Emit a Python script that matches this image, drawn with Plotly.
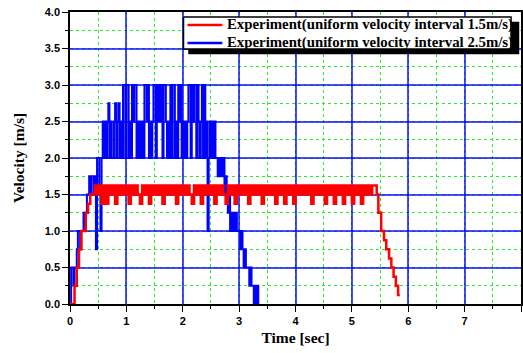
import plotly.graph_objects as go

# ---------------- data ----------------
red_t = [0.00, 0.04, 0.08, 0.12, 0.16, 0.20, 0.24, 0.28, 0.32, 0.36, 0.40, 0.44,
         0.48, 0.52, 0.56, 0.60, 0.64, 0.68, 0.72, 0.76, 0.80, 0.84,
         0.88, 0.92, 0.96, 1.00, 1.04, 1.08, 1.12, 1.16, 1.20, 1.24,
         1.28, 1.32, 1.36, 1.40, 1.44, 1.48, 1.52, 1.56, 1.60, 1.64,
         1.68, 1.72, 1.76, 1.80, 1.84, 1.88, 1.92, 1.96, 2.00, 2.04,
         2.08, 2.12, 2.16, 2.20, 2.24, 2.28, 2.32, 2.36, 2.40, 2.44,
         2.48, 2.52, 2.56, 2.60, 2.64, 2.68, 2.72, 2.76, 2.80, 2.84,
         2.88, 2.92, 2.96, 3.00, 3.04, 3.08, 3.12, 3.16, 3.20, 3.24,
         3.28, 3.32, 3.36, 3.40, 3.44, 3.48, 3.52, 3.56, 3.60, 3.64,
         3.68, 3.72, 3.76, 3.80, 3.84, 3.88, 3.92, 3.96, 4.00, 4.04,
         4.08, 4.12, 4.16, 4.20, 4.24, 4.28, 4.32, 4.36, 4.40, 4.44,
         4.48, 4.52, 4.56, 4.60, 4.64, 4.68, 4.72, 4.76, 4.80, 4.84,
         4.88, 4.92, 4.96, 5.00, 5.04, 5.08, 5.12, 5.16, 5.20, 5.24,
         5.28, 5.32, 5.36, 5.40,
         5.44, 5.47, 5.52, 5.57, 5.61, 5.66, 5.70, 5.74, 5.78, 5.82, 5.85]
red_v = [0, 0, 0.25, 0.5, 0.75, 1.0, 1.0, 1.25, 1.375, 1.5, 1.5, 1.625,
         1.5, 1.625, 1.375, 1.625, 1.375, 1.625, 1.5, 1.625, 1.375, 1.625,
         1.5, 1.625, 1.5, 1.625, 1.375, 1.625, 1.5, 1.625, 1.5, 1.375,
         1.625, 1.5, 1.625, 1.375, 1.625, 1.5, 1.625, 1.5, 1.625, 1.375,
         1.625, 1.5, 1.625, 1.5, 1.625, 1.375, 1.625, 1.5, 1.625, 1.5,
         1.625, 1.5, 1.375, 1.625, 1.5, 1.625, 1.375, 1.625, 1.5, 1.625,
         1.5, 1.625, 1.375, 1.625, 1.5, 1.625, 1.5, 1.375, 1.625, 1.5,
         1.625, 1.375, 1.625, 1.5, 1.625, 1.5, 1.625, 1.375, 1.625, 1.5,
         1.625, 1.5, 1.625, 1.375, 1.625, 1.5, 1.625, 1.5, 1.625, 1.375,
         1.625, 1.5, 1.625, 1.375, 1.625, 1.5, 1.625, 1.375, 1.625, 1.5,
         1.625, 1.5, 1.625, 1.5, 1.625, 1.375, 1.625, 1.5, 1.625, 1.5,
         1.625, 1.375, 1.625, 1.5, 1.625, 1.375, 1.625, 1.5, 1.625, 1.375,
         1.625, 1.5, 1.625, 1.375, 1.625, 1.5, 1.625, 1.375, 1.625, 1.5,
         1.625, 1.5, 1.625, 1.625,
         1.5, 1.25, 1.0, 0.875, 0.75, 0.625, 0.5, 0.375, 0.25, 0.125, 0.125]

blue_t = [0.00, 0.02, 0.04, 0.06, 0.08, 0.10, 0.12, 0.14, 0.16, 0.18,
          0.20, 0.22, 0.24, 0.26, 0.28, 0.30, 0.32, 0.34, 0.36, 0.38,
          0.40, 0.42, 0.44, 0.46, 0.48, 0.50, 0.52, 0.54, 0.56, 0.58,
          0.60, 0.62, 0.64, 0.66, 0.68, 0.70, 0.72, 0.74, 0.76, 0.78,
          0.80, 0.82, 0.84, 0.86, 0.88, 0.90, 0.92, 0.94, 0.96, 0.98,
          1.00, 1.02, 1.04, 1.06, 1.08, 1.10, 1.12, 1.14, 1.16, 1.18,
          1.20, 1.22, 1.24, 1.26, 1.28, 1.30, 1.32, 1.34, 1.36, 1.38,
          1.40, 1.42, 1.44, 1.46, 1.48, 1.50, 1.52, 1.54, 1.56, 1.58,
          1.60, 1.62, 1.64, 1.66, 1.68, 1.70, 1.72, 1.74, 1.76, 1.78,
          1.80, 1.82, 1.84, 1.86, 1.88, 1.90, 1.92, 1.94, 1.96, 1.98,
          2.00, 2.02, 2.04, 2.06, 2.08, 2.10, 2.12, 2.14, 2.16, 2.18,
          2.20, 2.22, 2.24, 2.26, 2.28, 2.30, 2.32, 2.34, 2.36, 2.38,
          2.40, 2.42, 2.44, 2.46, 2.48, 2.50, 2.52, 2.54, 2.56, 2.58,
          2.60, 2.62, 2.64, 2.66, 2.68, 2.70, 2.72, 2.74, 2.76, 2.78,
          2.80, 2.82, 2.84, 2.86, 2.88, 2.90, 2.92, 2.94, 2.96, 2.98,
          3.00, 3.02, 3.04, 3.06, 3.08, 3.10, 3.12, 3.14, 3.16, 3.18,
          3.20, 3.22, 3.24, 3.26, 3.28, 3.30, 3.32, 3.34]
blue_v = [0, 0.5, 0.5, 0.25, 0.5, 0.5, 0.75, 1.0, 1.0, 0.75,
          1.0, 1.0, 1.25, 1.0, 1.25, 1.5, 1.5, 1.75, 1.5, 1.75,
          1.75, 1.5, 1.75, 0.75, 2.0, 2.0, 1.5, 1.0, 2.0, 2.5,
          2.0, 2.5, 2.0, 2.5, 2.75, 2.0, 2.5, 2.0, 2.0, 2.5,
          2.75, 2.0, 2.5, 2.75, 2.0, 2.5, 2.0, 3.0, 3.0, 2.0,
          3.0, 3.0, 2.0, 2.5, 2.0, 3.0, 2.5, 3.0, 3.0, 2.0,
          2.5, 2.0, 2.5, 2.0, 2.5, 2.0, 3.0, 3.0, 2.5, 3.0,
          2.0, 2.5, 2.0, 2.5, 3.0, 3.0, 2.0, 3.0, 2.5, 3.0,
          2.5, 3.0, 2.0, 3.0, 3.0, 2.5, 2.0, 2.5, 2.0, 3.0,
          2.0, 3.0, 3.0, 2.0, 2.5, 2.0, 3.0, 2.5, 3.0, 2.0,
          2.5, 2.0, 2.5, 2.0, 2.5, 3.0, 3.0, 2.0, 3.0, 2.5,
          3.0, 3.0, 2.0, 3.0, 2.5, 2.0, 2.5, 3.0, 2.0, 3.0,
          2.0, 2.5, 1.0, 2.0, 2.5, 2.0, 2.5, 2.0, 2.5, 2.0,
          2.0, 1.75, 2.0, 1.75, 2.0, 1.75, 2.0, 1.5, 1.75, 1.5,
          1.25, 1.5, 1.0, 1.25, 1.0, 1.25, 1.0, 1.25, 1.0, 1.0,
          1.0, 0.75, 1.0, 0.75, 0.5, 0.75, 0.5, 0.5, 0.5, 0.25,
          0.5, 0.25, 0.25, 0, 0.25, 0, 0.25, 0]

red_name = "Experiment(uniform velocity interval 1.5m/s)"
blue_name = "Experiment(uniform velocity interval 2.5m/s)"
x_ticks = [0, 1, 2, 3, 4, 5, 6, 7, 8]
y_ticks = [0.0, 0.5, 1.0, 1.5, 2.0, 2.5, 3.0, 3.5, 4.0]

# ---------------- figure ----------------
fig = go.Figure()
fig.add_trace(go.Scatter(x=blue_t, y=blue_v, mode="lines", name=blue_name,
                         line=dict(color="#0000ff", width=2, shape="hv"), showlegend=False))
fig.add_trace(go.Scatter(x=red_t, y=red_v, mode="lines", name=red_name,
                         line=dict(color="#ff0000", width=2.5, shape="hv"), showlegend=False))

serif = "Liberation Serif, Times New Roman, serif"
sans = "Liberation Sans, Arial, sans-serif"

axis_common = dict(
    showline=True, linecolor="black", linewidth=1.5, mirror=True,
    ticks="outside", ticklen=6, tickwidth=1, tickcolor="black",
    showgrid=True, gridcolor="rgba(0,0,255,0.7)", gridwidth=1.5,
    zeroline=False,
    tickfont=dict(family=sans, size=11, color="black", weight="bold"),
)

X_RANGE = [0, 8]
Y_RANGE = [0, 4]

fig.update_xaxes(
    range=X_RANGE, tickvals=x_ticks, ticktext=[str(v) for v in x_ticks],
    title=dict(text="Time [sec]", font=dict(family=serif, size=15.5, color="black", weight="bold"),
               standoff=6),
    minor=dict(dtick=0.5, showgrid=True, gridcolor="#22ee22", griddash="dot", gridwidth=1,
               ticks="outside", ticklen=3, tickcolor="black"),
    **axis_common,
)
fig.update_yaxes(
    range=Y_RANGE, tickvals=y_ticks, ticktext=[f"{v:.1f}" for v in y_ticks],
    title=dict(text="Velocity [m/s]", font=dict(family=serif, size=15.5, color="black", weight="bold"),
               standoff=16),
    minor=dict(dtick=0.25, showgrid=True, gridcolor="#22ee22", griddash="dot", gridwidth=1,
               ticks="outside", ticklen=3, tickcolor="black"),
    **axis_common,
)

# ---- legend panel: frame + drop shadow, placed by pixel position ----
PL, PW, PB, PH = 70, 453, 304, 292


def to_px(xp):          # pixel x -> paper fraction
    return (xp - PL) / PW


def to_py(yp):          # pixel y -> paper fraction
    return (PB - yp) / PH


def frac_to_x(f):       # paper fraction -> axis value
    return X_RANGE[0] + f * (X_RANGE[1] - X_RANGE[0])


def frac_to_y(f):
    return Y_RANGE[0] + f * (Y_RANGE[1] - Y_RANGE[0])


def panel(x_left, y_top, x_right, y_bot, fill, line_color, line_width):
    xa, xb = frac_to_x(to_px(x_left)), frac_to_x(to_px(x_right))
    ya, yb = frac_to_y(to_py(y_top)), frac_to_y(to_py(y_bot))
    return go.Scatter(x=[xa, xb, xb, xa, xa], y=[ya, ya, yb, yb, ya], mode="lines",
                      fill="toself", fillcolor=fill,
                      line=dict(color=line_color, width=line_width),
                      hoverinfo="skip", showlegend=False, cliponaxis=False)


fig.add_trace(panel(189, 22, 521, 54, "black", "black", 0.5))     # drop shadow
fig.add_trace(panel(184, 17, 513, 49, "white", "black", 1.5))     # legend frame

legend_items = [(red_name, "#ff0000", 25), (blue_name, "#0000ff", 43)]
for name, color, yy in legend_items:
    fig.add_shape(type="line", xref="paper", yref="paper",
                  x0=to_px(188), x1=to_px(223), y0=to_py(yy), y1=to_py(yy),
                  line=dict(color=color, width=2.5), layer="above")
    fig.add_annotation(text=name, xref="paper", yref="paper", x=to_px(226), y=to_py(yy),
                       xanchor="left", yanchor="middle", showarrow=False,
                       font=dict(family=serif, size=14.8, color="black", weight="bold"))

fig.update_layout(
    width=523, height=353,
    margin=dict(l=70, r=0, t=12, b=49),
    plot_bgcolor="white", paper_bgcolor="white",
    showlegend=False,
)

fig.write_html("out.html")
